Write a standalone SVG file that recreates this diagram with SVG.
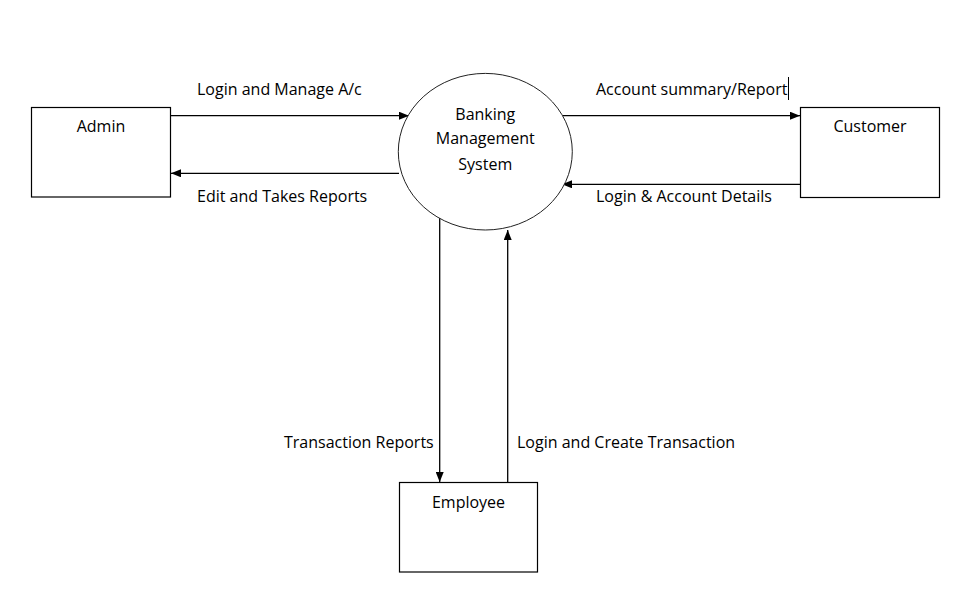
<svg xmlns="http://www.w3.org/2000/svg" width="971" height="609" viewBox="0 0 971 609">
<style>
.box{fill:#fff;stroke:#000;stroke-width:1.2}
.proc{fill:#fff;stroke:#222;stroke-width:1}
.flow{fill:none;stroke:#000;stroke-width:1.3}
text{font-family:"Open Sans","Liberation Sans",sans-serif;font-size:16px;fill:#000}
</style>
<defs>
<marker id="ah" viewBox="0 0 10 8" refX="10" refY="4" markerWidth="10" markerHeight="8" markerUnits="userSpaceOnUse" orient="auto">
<path d="M0,0 L10,4 L0,8 Z" fill="#000"/>
</marker>
</defs>
<rect width="971" height="609" fill="#fff"/>
<g id="connectors">
<line class="flow" x1="171" y1="115.7" x2="409" y2="115.7" marker-end="url(#ah)"/>
<line class="flow" x1="399" y1="173.3" x2="171" y2="173.3" marker-end="url(#ah)"/>
<line class="flow" x1="563" y1="115.7" x2="800" y2="115.7" marker-end="url(#ah)"/>
<line class="flow" x1="800" y1="184.3" x2="562" y2="184.3" marker-end="url(#ah)"/>
<line class="flow" x1="439.7" y1="218" x2="439.7" y2="482" marker-end="url(#ah)"/>
<line class="flow" x1="507.7" y1="482" x2="507.7" y2="230" marker-end="url(#ah)"/>
<text x="197" y="94.5">Login and Manage A/c</text>
<text x="197" y="201.7">Edit and Takes Reports</text>
<text x="596" y="94.5">Account summary/Report</text>
<line x1="788.5" y1="77" x2="788.5" y2="100" stroke="#000" stroke-width="1"/>
<text x="596" y="201.7">Login &amp; Account Details</text>
<text x="284" y="448">Transaction Reports</text>
<text x="517" y="448">Login and Create Transaction</text>
</g>
<g id="admin">
<rect class="box" x="31.5" y="107.5" width="139" height="89.5"/>
<text x="101" y="132" text-anchor="middle">Admin</text>
</g>
<g id="customer">
<rect class="box" x="800.5" y="107.5" width="139" height="90"/>
<text x="870" y="132" text-anchor="middle">Customer</text>
</g>
<g id="employee">
<rect class="box" x="399.5" y="482.5" width="138" height="89.5"/>
<text x="468.5" y="507.7" text-anchor="middle">Employee</text>
</g>
<g id="banking-system">
<ellipse class="proc" cx="485.3" cy="151.7" rx="87" ry="78.3"/>
<text x="485.3" y="120" text-anchor="middle">Banking</text>
<text x="485.3" y="144" text-anchor="middle">Management</text>
<text x="485.3" y="170" text-anchor="middle">System</text>
</g>
</svg>
